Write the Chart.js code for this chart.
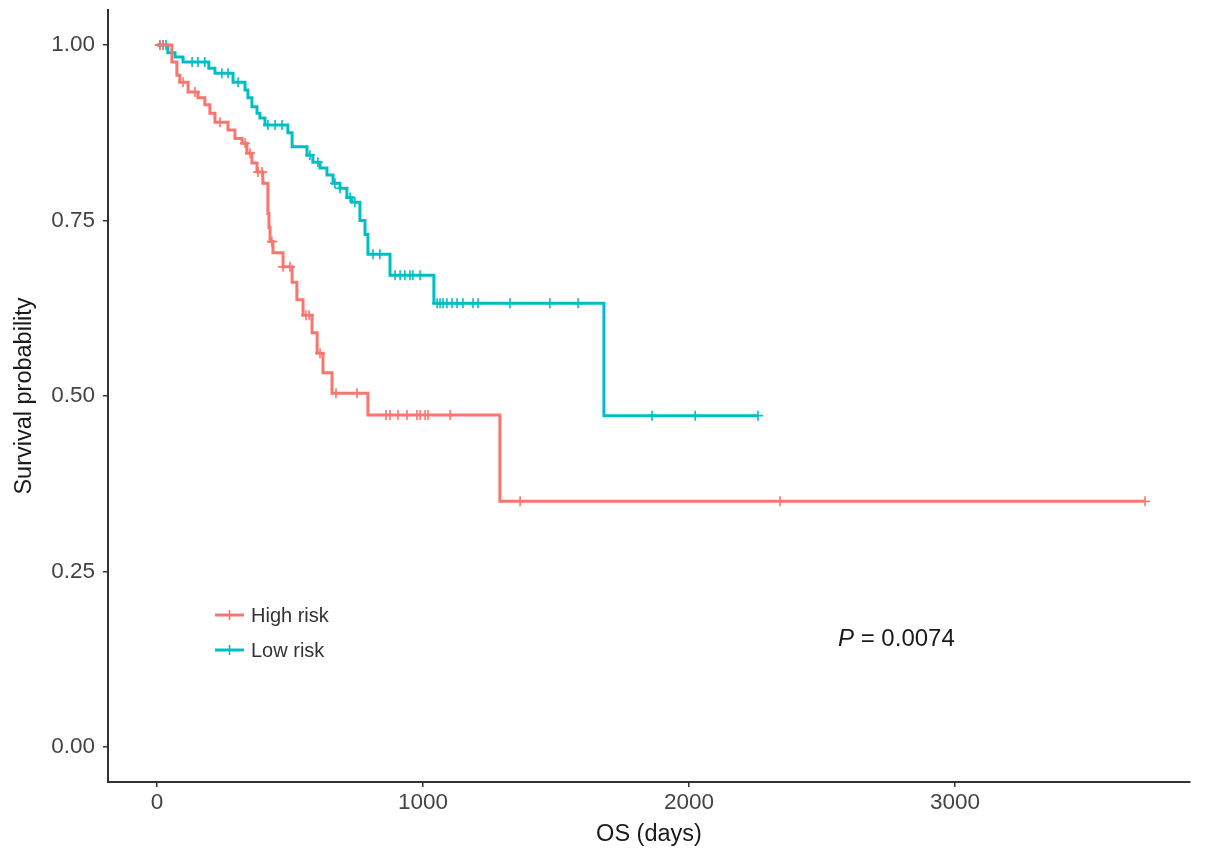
<!DOCTYPE html>
<html>
<head>
<meta charset="utf-8">
<script src="https://cdn.jsdelivr.net/npm/chart.js@4.4.1/dist/chart.umd.min.js"></script>
<style>
  html, body { margin: 0; padding: 0; background: #fff; }
  #wrap { width: 1205px; height: 860px; }
</style>
</head>
<body>
<div id="wrap"><canvas id="km" width="1205" height="860"></canvas></div>
<script>
// Kaplan-Meier, OS by risk group
const groupNames = ["High risk", "Low risk"];
const groupColors = ["#F8766D", "#00BFC4"];

const highEventDays = [56, 75, 86, 117, 154, 180, 199, 218, 267, 293, 320, 338, 357, 376, 398, 417, 421, 425, 436, 474, 508, 526, 549, 583, 602, 624, 658, 793, 1289];
const highSurv      = [0.976, 0.957, 0.947, 0.933, 0.925, 0.915, 0.903, 0.89, 0.879, 0.867, 0.86, 0.846, 0.832, 0.819, 0.803, 0.76, 0.74, 0.72, 0.704, 0.684, 0.662, 0.637, 0.615, 0.59, 0.561, 0.533, 0.504, 0.473, 0.35];
const highCensorDays = [11, 23, 98, 143, 237, 331, 350, 380, 395, 432, 474, 500, 560, 572, 613, 673, 752, 861, 876, 906, 940, 977, 989, 1008, 1019, 1102, 1365, 2342, 3714];
const highEndDay = 3714;

const lowEventDays = [41, 68, 98, 195, 218, 286, 331, 342, 357, 376, 387, 406, 492, 508, 564, 586, 613, 639, 662, 688, 714, 733, 763, 782, 793, 876, 1041, 1680];
const lowSurv      = [0.989, 0.983, 0.976, 0.967, 0.96, 0.947, 0.936, 0.925, 0.912, 0.903, 0.896, 0.886, 0.875, 0.855, 0.843, 0.833, 0.825, 0.815, 0.803, 0.796, 0.783, 0.776, 0.75, 0.73, 0.702, 0.672, 0.632, 0.472];
const lowCensorDays = [11, 23, 34, 132, 154, 180, 244, 267, 305, 417, 444, 470, 575, 605, 669, 688, 726, 744, 812, 838, 895, 914, 932, 951, 962, 989, 1053, 1064, 1075, 1090, 1109, 1128, 1150, 1188, 1207, 1327, 1477, 1583, 1861, 2023, 2259];
const lowEndDay = 2259;

const xTicks = [0, 1000, 2000, 3000];
const yTicks = [0, 0.25, 0.5, 0.75, 1];
const pText = "0.0074";

const FONT = '"Liberation Sans", Arial, sans-serif';

function stepPoints(days, surv, end) {
  const pts = [{x: 0, y: 1}];
  days.forEach((d, i) => pts.push({x: d, y: surv[i]}));
  pts.push({x: end, y: surv[surv.length - 1]});
  return pts;
}
function survAt(days, surv, t) {
  let s = 1;
  for (let i = 0; i < days.length; i++) {
    if (days[i] <= t) s = surv[i];
  }
  return s;
}
function censorPoints(days, surv, cens) {
  return cens.map(t => ({x: t, y: survAt(days, surv, t)}));
}

const lineStyle = (color) => ({
  borderColor: color, backgroundColor: color, borderWidth: 3,
  pointRadius: 0, stepped: "before", fill: false, tension: 0
});
const censorStyle = (color) => ({
  type: "scatter", showLine: false, pointStyle: "cross",
  pointRadius: 5, pointBorderWidth: 1.6, borderColor: color, backgroundColor: color
});

const legendPlugin = {
  id: "kmLegend",
  afterDraw(chart) {
    const ctx = chart.ctx;
    ctx.save();
    const rows = [615, 650];
    groupNames.forEach((name, i) => {
      const y = rows[i];
      ctx.strokeStyle = groupColors[i];
      ctx.lineWidth = 3;
      ctx.beginPath(); ctx.moveTo(215, y); ctx.lineTo(244, y); ctx.stroke();
      ctx.lineWidth = 1.6;
      ctx.beginPath(); ctx.moveTo(229.5, y - 5); ctx.lineTo(229.5, y + 5); ctx.stroke();
      ctx.fillStyle = "#333333";
      ctx.font = "20px " + FONT;
      ctx.textBaseline = "middle";
      ctx.textAlign = "left";
      ctx.fillText(name, 251, y + 1);
    });
    // p-value
    ctx.fillStyle = "#1a1a1a";
    ctx.textBaseline = "middle";
    ctx.font = "italic 24px " + FONT;
    ctx.fillText("P", 838, 639);
    const w = ctx.measureText("P").width;
    ctx.font = "24px " + FONT;
    ctx.fillText(" = " + pText, 838 + w, 639);
    ctx.restore();
  }
};

new Chart("km", {
  type: "line",
  data: {
    datasets: [
      Object.assign({label: groupNames[0], data: stepPoints(highEventDays, highSurv, highEndDay)}, lineStyle(groupColors[0])),
      Object.assign({label: groupNames[1], data: stepPoints(lowEventDays, lowSurv, lowEndDay)}, lineStyle(groupColors[1])),
      Object.assign({label: groupNames[0] + " censored", data: censorPoints(highEventDays, highSurv, highCensorDays)}, censorStyle(groupColors[0])),
      Object.assign({label: groupNames[1] + " censored", data: censorPoints(lowEventDays, lowSurv, lowCensorDays)}, censorStyle(groupColors[1]))
    ]
  },
  options: {
    responsive: false,
    animation: false,
    devicePixelRatio: 1,
    layout: {padding: {top: 10, right: 15, left: 0, bottom: 0}},
    plugins: {legend: {display: false}, tooltip: {enabled: false}},
    scales: {
      x: {
        type: "linear", min: -184, max: 3883,
        afterBuildTicks: (s) => { s.ticks = xTicks.map(v => ({value: v})); },
        afterFit: (s) => { s.height = 78; s.paddingLeft = 0; s.paddingRight = 0; },
        border: {display: true, color: "#333333", width: 2},
        grid: {display: true, drawOnChartArea: false, drawTicks: true, tickLength: 5, color: "#333333", lineWidth: 1.5},
        ticks: {color: "#444444", padding: 2, font: {family: FONT, size: 22.5}, callback: (v) => String(v)},
        title: {display: true, text: "OS (days)", color: "#1a1a1a", padding: {top: 0, bottom: 11}, font: {family: FONT, size: 23.5}}
      },
      y: {
        type: "linear", min: -0.05, max: 1.05,
        afterBuildTicks: (s) => { s.ticks = yTicks.map(v => ({value: v})); },
        afterFit: (s) => { s.width = 108; s.paddingTop = 0; s.paddingBottom = 0; },
        border: {display: true, color: "#333333", width: 2},
        grid: {display: true, drawOnChartArea: false, drawTicks: true, tickLength: 5, color: "#333333", lineWidth: 1.5},
        ticks: {color: "#444444", padding: 8, font: {family: FONT, size: 22.5}, callback: (v) => Number(v).toFixed(2)},
        title: {display: true, text: "Survival probability", color: "#1a1a1a", padding: {top: 10, bottom: 4}, font: {family: FONT, size: 23.5}}
      }
    }
  },
  plugins: [legendPlugin]
});
</script>
</body>
</html>
